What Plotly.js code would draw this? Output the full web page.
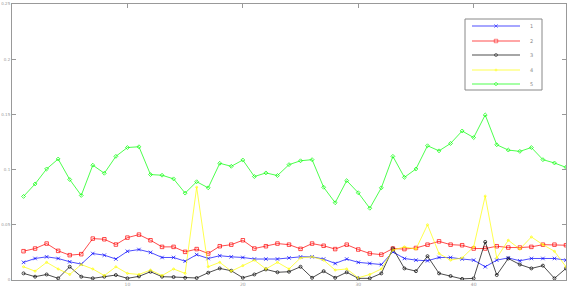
<!DOCTYPE html>
<html>
<head>
<meta charset="utf-8">
<script src="https://cdn.plot.ly/plotly-3.0.1.min.js"></script>
<style>html,body{margin:0;padding:0;background:#fff;}#chart{width:569px;height:288px;}</style>
</head>
<body>
<div id="chart"></div>
<script>
const xIndex = [1,2,3,4,5,6,7,8,9,10,11,12,13,14,15,16,17,18,19,20,21,22,23,24,25,26,27,28,29,30,31,32,33,34,35,36,37,38,39,40,41,42,43,44,45,46,47,48];
const seriesNames = ['1','2','3','4','5'];
const series1 = [0.016,0.0195,0.021,0.0195,0.0165,0.0144,0.024,0.0225,0.019,0.026,0.0276,0.025,0.0204,0.0204,0.017,0.023,0.0195,0.022,0.021,0.0204,0.019,0.019,0.019,0.020,0.021,0.021,0.019,0.015,0.019,0.016,0.015,0.014,0.0255,0.0195,0.018,0.0174,0.0204,0.0204,0.019,0.018,0.012,0.018,0.020,0.0174,0.0195,0.0195,0.0195,0.018];
const series2 = [0.0261,0.0285,0.033,0.0264,0.0225,0.0234,0.0375,0.0369,0.0321,0.0384,0.0411,0.036,0.030,0.030,0.0255,0.028,0.024,0.0306,0.032,0.036,0.0285,0.0306,0.033,0.032,0.0282,0.033,0.031,0.028,0.032,0.0276,0.024,0.023,0.0285,0.028,0.029,0.032,0.035,0.032,0.0315,0.0285,0.0285,0.0306,0.0294,0.0294,0.030,0.032,0.032,0.0315];
const series3 = [0.006,0.003,0.005,0.0015,0.012,0.003,0.0015,0.003,0.0045,0.0015,0.0033,0.0075,0.003,0.0027,0.002,0.0018,0.0066,0.0105,0.0084,0.002,0.005,0.0096,0.007,0.0075,0.012,0.002,0.008,0.002,0.007,0.0015,0.0015,0.006,0.0285,0.0105,0.008,0.0216,0.006,0.0036,0.001,0.0015,0.0345,0.0045,0.0195,0.014,0.0105,0.013,0.0015,0.0105];
const series4 = [0.012,0.008,0.016,0.010,0.005,0.014,0.010,0.004,0.012,0.006,0.005,0.009,0.004,0.010,0.006,0.084,0.012,0.016,0.008,0.013,0.018,0.010,0.016,0.010,0.020,0.021,0.018,0.009,0.010,0.002,0.005,0.010,0.027,0.030,0.028,0.050,0.024,0.018,0.020,0.030,0.076,0.020,0.036,0.028,0.039,0.032,0.026,0.012];
const series5 = [0.0757,0.087,0.1006,0.1096,0.091,0.0766,0.104,0.0967,0.112,0.120,0.1207,0.0955,0.0949,0.0916,0.0787,0.089,0.0835,0.1057,0.103,0.1087,0.0937,0.097,0.0946,0.1045,0.108,0.109,0.084,0.070,0.090,0.079,0.065,0.0835,0.112,0.093,0.1006,0.1216,0.117,0.1237,0.135,0.129,0.1495,0.1225,0.1177,0.1165,0.120,0.109,0.106,0.102];

const colors = ['#0000ff','#ff0000','#000000','#ffff00','#00ff00'];
const symbols = ['x-thin-open','square-open','circle-open','circle-open','diamond-open'];
const markerSizes = [3.5,3.5,3,2,3];
const allSeries = [series1,series2,series3,series4,series5];

const W = 569, H = 288;
const M = {l:12, r:3, t:4, b:8};

const traces = allSeries.map((ys,k)=>({
  x: xIndex, y: ys, name: seriesNames[k], type:'scatter', mode:'lines+markers', showlegend:false,
  line:{color:colors[k], width:0.7},
  marker:{color:colors[k], symbol:symbols[k], size:markerSizes[k], line:{color:colors[k], width:0.7}}
}));

// Hand-built legend on a pixel-mapped overlay axis (layout only)
const legBox = {x0:465, x1:542, y0:19, y1:90};
const legRowY = [26, 41, 55, 70, 84];
const legLine = {x0:472, x1:520, xm:496, xt:528};
const shapes = [{type:'rect', xref:'x2', yref:'y2', x0:legBox.x0, x1:legBox.x1, y0:legBox.y0, y1:legBox.y1,
  line:{color:'#888', width:1}, fillcolor:'rgba(255,255,255,0)', layer:'above'}];
const annotations = [];
seriesNames.forEach((nm,k)=>{
  shapes.push({type:'line', xref:'x2', yref:'y2', x0:legLine.x0, x1:legLine.x1, y0:legRowY[k], y1:legRowY[k],
    line:{color:colors[k], width:0.7}, layer:'below'});
  annotations.push({xref:'x2', yref:'y2', x:legLine.xt, y:legRowY[k], text:nm, showarrow:false,
    xanchor:'left', yanchor:'middle', font:{size:5, color:'#888'}});
});
traces.push({x: seriesNames.map(()=>legLine.xm), y: legRowY, xaxis:'x2', yaxis:'y2', type:'scatter', mode:'markers',
  showlegend:false, hoverinfo:'skip', cliponaxis:false,
  marker:{color:colors, symbol:symbols, size:markerSizes, line:{color:colors, width:0.7}}});

const layout = {
  width:W, height:H,
  margin:M,
  paper_bgcolor:'#fff', plot_bgcolor:'#fff',
  font:{family:'DejaVu Sans', size:4, color:'#888'},
  showlegend:false,
  shapes: shapes, annotations: annotations,
  xaxis:{range:[0,48], tickvals:[10,20,30,40], ticktext:['10','20','30','40'], showgrid:false, zeroline:false,
         showline:true, linecolor:'#999', linewidth:1, mirror:'ticks', ticks:'inside', ticklen:4, tickcolor:'#999',
         tickfont:{size:4.5,color:'#999'}},
  yaxis:{range:[0,0.25], tickvals:[0,0.05,0.1,0.15,0.2,0.25], ticktext:['0','0.05','0.1','0.15','0.2','0.25'],
         showgrid:false, zeroline:false, showline:true, linecolor:'#999', linewidth:1, mirror:'ticks',
         ticks:'inside', ticklen:4, tickcolor:'#999', tickfont:{size:4,color:'#999'}, ticklabelstandoff:0},
  xaxis2:{overlaying:'x', range:[M.l, W-M.r], visible:false, fixedrange:true},
  yaxis2:{overlaying:'y', range:[H-M.b, M.t], visible:false, fixedrange:true}
};
Plotly.newPlot('chart', traces, layout, {displayModeBar:false, staticPlot:true});
</script>
</body>
</html>
